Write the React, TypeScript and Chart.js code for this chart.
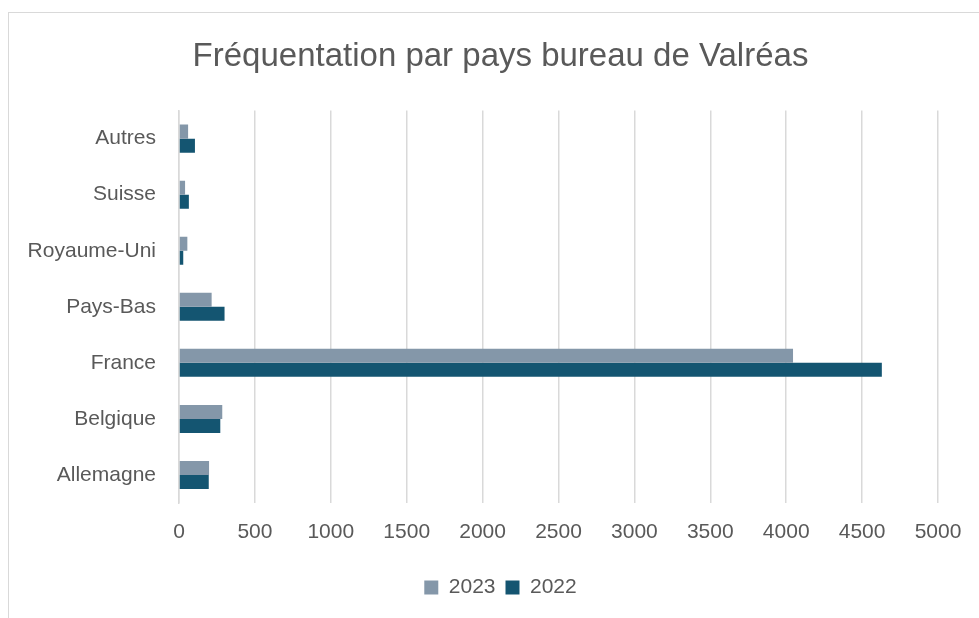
import React, { useEffect, useRef } from "react";
import { Chart, registerables } from "chart.js";

Chart.register(...registerables);

const categories = ["Autres", "Suisse", "Royaume-Uni", "Pays-Bas", "France", "Belgique", "Allemagne"];
const series2023 = [60, 40, 55, 215, 4045, 285, 198];
const series2022 = [105, 65, 28, 300, 4630, 272, 196];
const seriesNames = ["2023", "2022"];
const xTickMax = 5000;
const xTickStep = 500;

const FONT = "'Liberation Sans', Arial, sans-serif";
const TEXT = "#595959";

export default function App() {
  const ref = useRef<HTMLCanvasElement | null>(null);

  useEffect(() => {
    if (!ref.current) return;
    const chart = new Chart(ref.current, {
      type: "bar",
      data: {
        labels: categories,
        datasets: [
          { label: seriesNames[0], data: series2023, backgroundColor: "#8497A9", borderWidth: 0 },
          { label: seriesNames[1], data: series2022, backgroundColor: "#145571", borderWidth: 0 },
        ],
      },
      options: {
        indexAxis: "y",
        animation: false,
        responsive: false,
        maintainAspectRatio: false,
        layout: { padding: { left: 22, right: 0, top: 0, bottom: 10 } },
        datasets: { bar: { categoryPercentage: 0.5, barPercentage: 1 } },
        scales: {
          x: {
            min: 0,
            max: xTickMax,
            ticks: {
              stepSize: xTickStep,
              color: TEXT,
              font: { family: FONT, size: 21 },
              padding: 17,
              callback: (v: any) => String(v),
            },
            grid: { color: "#d9d9d9", lineWidth: 1.5, drawTicks: false },
            border: { display: false },
            afterFit: (s: any) => { s.height = 64; },
          },
          y: {
            ticks: { color: TEXT, font: { family: FONT, size: 21 }, padding: 23 },
            grid: { display: false, drawTicks: false },
            border: { display: true, color: "#d9d9d9", width: 1.5 },
            afterFit: (s: any) => { s.width = 157; },
          },
          yRight: {
            type: "linear",
            position: "right",
            display: true,
            ticks: { display: false },
            grid: { display: false, drawTicks: false },
            border: { display: false },
            afterFit: (s: any) => { s.width = 41; },
          },
        },
        plugins: {
          title: {
            display: true,
            text: "Fréquentation par pays bureau de Valréas",
            color: TEXT,
            font: { family: FONT, size: 33, weight: "normal" },
            padding: { top: 37, bottom: 34 },
          },
          legend: {
            position: "bottom",
            labels: {
              color: TEXT,
              font: { family: FONT, size: 21 },
              boxWidth: 14,
              boxHeight: 14,
              padding: 10,
            },
          },
          tooltip: { enabled: false },
        },
      },
    });
    return () => chart.destroy();
  }, []);

  return (
    <div style={{ position: "fixed", left: 0, top: 0, width: 979, height: 618, background: "#fff", overflow: "hidden" }}>
      <div
        style={{
          position: "absolute",
          left: 8,
          top: 12,
          width: 1000,
          height: 700,
          borderLeft: "1.5px solid #d9d9d9",
          borderTop: "1.5px solid #d9d9d9",
        }}
      />
      <canvas ref={ref} width={979} height={618} style={{ position: "absolute", left: 0, top: 0, display: "block" }} />
    </div>
  );
}
